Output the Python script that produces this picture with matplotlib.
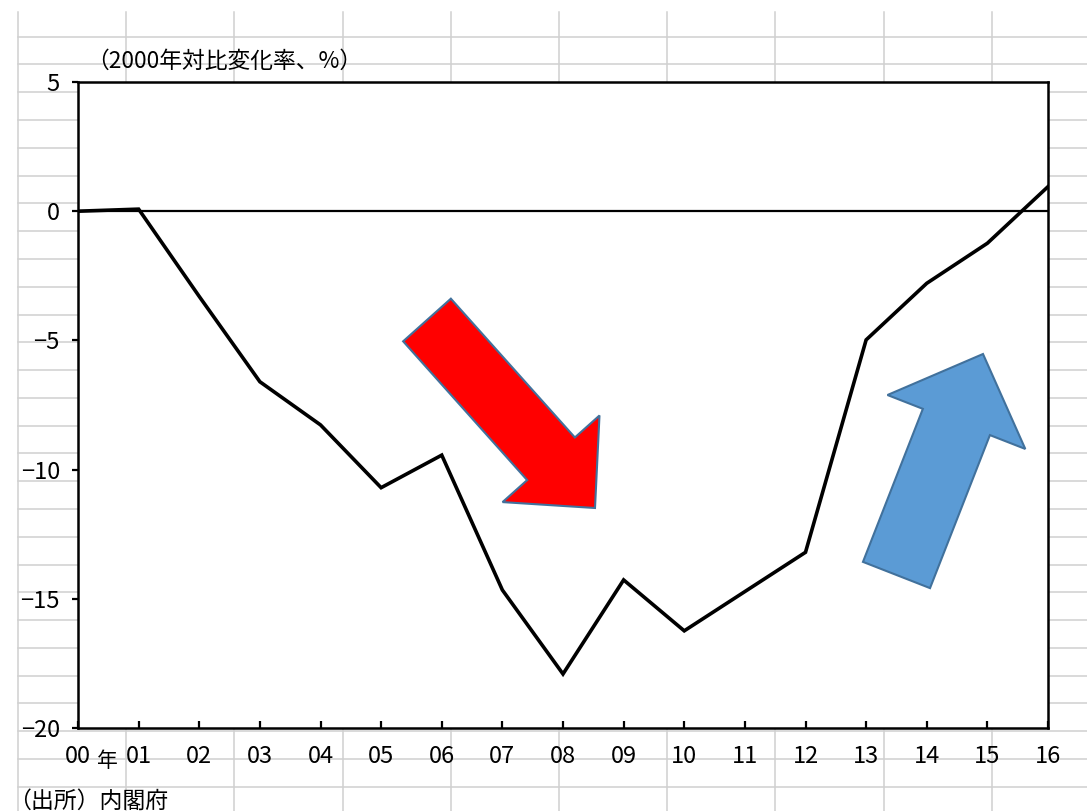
import matplotlib
matplotlib.use("Agg")
import matplotlib.pyplot as plt
from matplotlib import font_manager
from matplotlib.patches import Polygon
import numpy as np

# data: change rate vs 2000 (%)
years = ["00", "01", "02", "03", "04", "05", "06", "07", "08",
         "09", "10", "11", "12", "13", "14", "15", "16"]
change_rate = [0.0, 0.08, -3.3, -6.6, -8.27, -10.7, -9.44, -14.66, -17.91,
               -14.27, -16.24, -14.72, -13.2, -4.98, -2.79, -1.24, 0.95]
y_ticks = [5, 0, -5, -10, -15, -20]

W, H = 1087, 811

names = {f.name for f in font_manager.fontManager.ttflist}
JP = "Noto Sans CJK JP"
NUM = ["Liberation Sans Narrow", JP] if "Liberation Sans Narrow" in names else [JP]
plt.rcParams["font.family"] = [JP, "DejaVu Sans"]


def arrow_poly(tail, tip, shaft_w, head_w, head_len):
    """7-point block arrow in pixel coords."""
    tail = np.array(tail, float)
    tip = np.array(tip, float)
    u = (tip - tail) / np.linalg.norm(tip - tail)
    n = np.array([u[1], -u[0]])
    base = tip - head_len * u
    s, h = shaft_w / 2, head_w / 2
    return [tail + s * n, base + s * n, base + h * n, tip,
            base - h * n, base - s * n, tail - s * n]


fig = plt.figure(figsize=(W / 100, H / 100), dpi=100)
fig.patch.set_facecolor("white")

# spreadsheet cell grid behind the chart
bg = fig.add_axes([0, 0, 1, 1], zorder=0)
bg.set_xlim(0, W)
bg.set_ylim(H, 0)
bg.axis("off")
grid_c = "#d0d0d0"
for x in np.arange(18, W, 108.2):
    bg.plot([x, x], [12, H], color=grid_c, lw=1.1)
for y in np.arange(36.7, H, 27.78):
    bg.plot([18, W], [y, y], color=grid_c, lw=1.1)

# plot area
left, top, right, bottom = 78, 82, 1048, 728
ax = fig.add_axes([left / W, 1 - bottom / H, (right - left) / W, (bottom - top) / H],
                  zorder=1)
ax.set_facecolor("white")
x = np.arange(len(years))
ax.plot(x, change_rate, color="black", lw=2.6, solid_joinstyle="miter", zorder=3)
ax.axhline(0, color="black", lw=1.6, zorder=2)

ax.set_xlim(0, len(years) - 1)
ax.set_ylim(-20, 5)
ax.set_xticks(x)
ax.set_xticklabels(years, family=NUM, fontsize=17)
ax.set_yticks(y_ticks)
ax.set_yticklabels([str(v).replace("-", "\u2212") for v in y_ticks], family=NUM, fontsize=17)
ax.tick_params(axis="x", direction="in", length=5, width=1.6, pad=12)
ax.tick_params(axis="y", direction="out", length=4, width=1.6, pad=9)
for sp in ax.spines.values():
    sp.set_linewidth(1.8)
    sp.set_color("black")

# arrows
for tail, tip, sw, hw, hl, fc in [
    ((427, 320), (595, 508), 64, 130, 66, "#ff0000"),
    ((896.5, 575), (983, 354), 72, 148, 73, "#5b9bd5"),
]:
    p = Polygon(arrow_poly(tail, tip, sw, hw, hl), closed=True, facecolor=fc,
                edgecolor="#41719c", lw=1.5, transform=bg.transData,
                clip_on=False, zorder=5)
    ax.add_patch(p)

# texts
fig.text(86 / W, 1 - 61 / H, "（2000年対比変化率、%）", fontsize=16.4,
         ha="left", va="center")
fig.text(107 / W, 1 - 761 / H, "年", fontsize=15, ha="center", va="center")
fig.text(8 / W, 1 - 801 / H, "（出所）内閣府", fontsize=16.5, ha="left", va="center")

fig.savefig("out.png", dpi=100, facecolor="white")
